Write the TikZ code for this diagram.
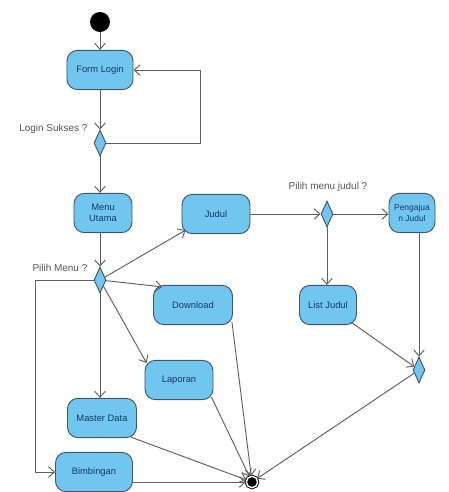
\documentclass[tikz,border=0pt]{standalone}
\usepackage{fontspec}
\setmainfont{Liberation Sans}
\usepackage{xcolor}
\usetikzlibrary{arrows.meta, shapes.geometric}
\definecolor{actfill}{RGB}{112,198,238}
\definecolor{actline}{RGB}{70,85,100}
\definecolor{acttext}{RGB}{25,55,105}
\definecolor{edgegray}{RGB}{95,95,95}
\definecolor{guardgray}{RGB}{85,85,85}

\begin{document}
\begin{tikzpicture}[x=0.03cm, y=-0.03cm, >={Straight Barb[length=5pt,width=9pt]},
                    line width=0.8pt]
\tikzstyle{activity}=[rectangle, rounded corners=9pt, draw=actline, fill=actfill,
                    text=acttext, font=\fontsize{8}{9.5}\selectfont, align=center,
                    inner sep=1pt, minimum height=1.18cm]
\tikzstyle{decision}=[diamond, draw=actline, fill=actfill, inner sep=0pt,
                    minimum width=0.36cm, minimum height=0.78cm]
\tikzstyle{guard}=[text=guardgray, font=\fontsize{8.5}{10}\selectfont, inner sep=1pt]
\tikzstyle{flow}=[draw=edgegray, ->]
  \useasboundingbox (0,0) rectangle (449,492);
  % start / end
  \node[circle, fill=black, minimum size=0.6cm, inner sep=0pt] (start) at (100,22) {};
  \node[circle, draw=black, fill=black, double=white, double distance=1.2pt,
        minimum size=0.34cm, inner sep=0pt] (end) at (252,482) {};
  % activities
  \node[activity, minimum width=1.98cm] (login)  at (100,70)  {Form Login};
  \node[activity, minimum width=1.74cm] (menu)   at (103,213) {Menu\\Utama};
  \node[activity, minimum width=2.04cm] (judul)  at (216,214) {Judul};
  \node[activity, minimum width=1.38cm, inner sep=0pt,
        font=\fontsize{7.2}{9}\selectfont] (pengajuan) at (412,213) {Pengajua\\n Judul};
  \node[activity, minimum width=1.71cm] (listjudul) at (328,305) {List Judul};
  \node[activity, minimum width=2.37cm] (download) at (193,305) {Download};
  \node[activity, minimum width=2.04cm] (laporan)  at (179,380) {Laporan};
  \node[activity, minimum width=2.07cm] (master)   at (102,418) {Master Data};
  \node[activity, minimum width=2.31cm] (bimbingan) at (94,472) {Bimbingan};
  % decisions
  \node[decision] (dlogin) at (100,143) {};
  \node[decision] (dmenu)  at (100,280) {};
  \node[decision] (djudul) at (327,214) {};
  \node[decision] (dmerge) at (419,370) {};
  % guards
  \node[guard, anchor=east] (glogin) at (89,129) {Login Sukses ?};
  \node[guard, anchor=east] (gmenu)  at (89,268) {Pilih Menu ?};
  \node[guard] (gjudul) at (328,187) {Pilih menu judul ?};

  \path[flow] (start) -- (login);
  \path[flow] (login) -- (dlogin);
  \path[flow] (dlogin.east) -- ++(94,0) |- (login.east);
  \path[flow] (dlogin) -- (dlogin |- menu.north);
  \path[flow] (menu.south -| dmenu) -- (dmenu);
  \path[flow] (dmenu) -- ([shift={(4,-4)}]judul.south west);
  \path[flow] (dmenu) -- ([shift={(9,2)}]download.north west);
  \path[flow] (dmenu) -- ([shift={(2,3)}]laporan.north west);
  \path[flow] (dmenu) -- (dmenu |- master.north);
  \path[flow] (dmenu.west) -- ++(-58,0) |- (bimbingan.west);
  \path[flow] (judul) -- (djudul);
  \path[flow] (djudul.east) -- (pengajuan.west |- djudul);
  \path[flow] (djudul) -- (djudul |- listjudul.north);
  \path[flow] (pengajuan.south -| dmerge) -- (dmerge);
  \path[flow] ([shift={(-6,-3)}]listjudul.south east) -- (dmerge);
  \path[flow] (dmerge) -- (end);
  \path[flow] ([shift={(-1,-3)}]download.south east) -- (end);
  \path[flow] ([shift={(-2,-3)}]laporan.south east) -- (end);
  \path[flow] ([shift={(-6,-1)}]master.south east) -- (end);
  \path[flow] (bimbingan.east |- end) -- (end);
\end{tikzpicture}
\end{document}
